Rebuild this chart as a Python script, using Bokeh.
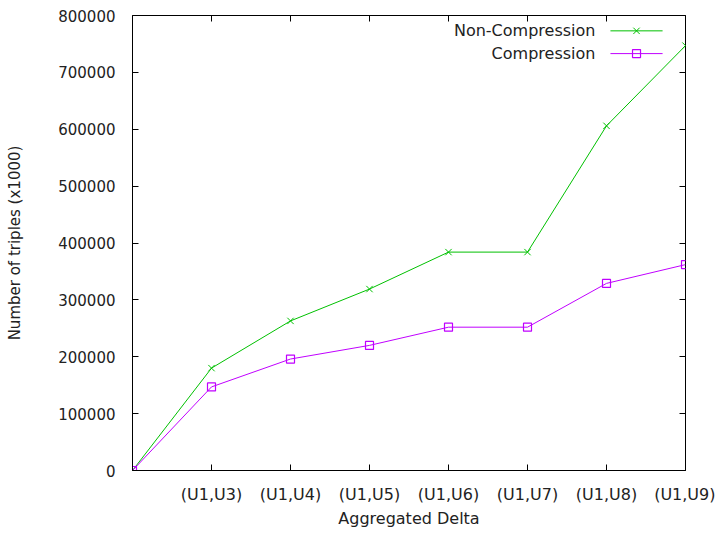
from bokeh.plotting import figure
from bokeh.models import (Range1d, FixedTicker, LinearAxis, PrintfTickFormatter)
from bokeh.core.properties import value
from bokeh.embed import file_html
from bokeh.resources import INLINE

# ---- data ----
categories = ["", "(U1,U3)", "(U1,U4)", "(U1,U5)", "(U1,U6)", "(U1,U7)", "(U1,U8)", "(U1,U9)"]
non_compression = [0, 180000, 263000, 319000, 384000, 384000, 606000, 747000]
compression = [0, 147000, 196000, 220000, 252000, 252000, 329000, 362000]
y_ticks = [0, 100000, 200000, 300000, 400000, 500000, 600000, 700000, 800000]
series_names = ["Non-Compression", "Compression"]

GREEN = "#00c000"
PURPLE = "#c000ff"
FONT = "DejaVu Sans"
FS = "15px"
FS_L = "16px"
TXT = "#222222"

xs = list(range(len(categories)))

p = figure(width=715, height=530, output_backend="svg", toolbar_location=None,
           x_range=Range1d(0, len(categories) - 1), y_range=Range1d(0, 800000),
           min_border_left=132, min_border_right=30, min_border_top=15, min_border_bottom=60)

p.grid.visible = False
p.outline_line_color = "black"
p.outline_line_width = 1
p.background_fill_color = "white"
p.border_fill_color = "white"

# x axis
xa = p.xaxis[0]
xa.ticker = FixedTicker(ticks=xs[1:])
xa.major_label_overrides = {i: categories[i] for i in xs}
xa.major_tick_in = 6
xa.major_tick_out = 0
xa.minor_tick_line_color = None
xa.axis_line_color = "black"
xa.major_label_text_font = FONT
xa.major_label_text_font_size = FS_L
xa.major_label_text_color = TXT
xa.major_label_standoff = 14
xa.axis_label = "Aggregated Delta"
xa.axis_label_text_font = FONT
xa.axis_label_text_font_size = FS_L
xa.axis_label_text_font_style = "normal"
xa.axis_label_text_color = TXT
xa.axis_label_standoff = 2

# y axis
ya = p.yaxis[0]
ya.ticker = FixedTicker(ticks=y_ticks)
ya.formatter = PrintfTickFormatter(format="%d")
ya.major_tick_in = 6
ya.major_tick_out = 0
ya.minor_tick_line_color = None
ya.major_label_text_font = FONT
ya.major_label_text_font_size = FS
ya.major_label_text_color = TXT
ya.major_label_standoff = 17
ya.axis_label = "Number of triples (x1000)"
ya.axis_label_text_font = FONT
ya.axis_label_text_font_size = FS
ya.axis_label_text_font_style = "normal"
ya.axis_label_text_color = TXT
ya.axis_label_standoff = 31

# mirror ticks on top and right (no labels)
top = LinearAxis(ticker=FixedTicker(ticks=xs[1:]), major_tick_in=6, major_tick_out=0,
                 minor_tick_line_color=None, axis_line_color=None,
                 major_label_text_color=None, major_label_text_font_size="1px",
                 major_label_standoff=0)
right = LinearAxis(ticker=FixedTicker(ticks=y_ticks), major_tick_in=6, major_tick_out=0,
                   minor_tick_line_color=None, axis_line_color=None,
                   major_label_text_color=None, major_label_text_font_size="1px",
                   major_label_standoff=0)
p.add_layout(top, "above")
p.add_layout(right, "right")

# series
p.line(xs, non_compression, line_color=GREEN, line_width=1)
p.scatter(xs, non_compression, marker="x", size=9, line_color=GREEN, line_width=1)
p.line(xs, compression, line_color=PURPLE, line_width=1)
p.scatter(xs, compression, marker="square", size=8, line_color=PURPLE, fill_color=None, line_width=1.2)

# legend (gnuplot style: label then sample), positioned in data space
leg_y = [773000, 733000]
leg_x_text = 5.86
leg_x0, leg_x1, leg_xm = 6.05, 6.71, 6.38
p.text([leg_x_text] * 2, leg_y, text=series_names, text_align="right", text_baseline="middle",
       text_font=value(FONT), text_font_size=FS_L, text_color=TXT)
p.segment([leg_x0] * 2, leg_y, [leg_x1] * 2, leg_y, line_color=[GREEN, PURPLE], line_width=1)
p.scatter([leg_xm], [leg_y[0]], marker="x", size=9, line_color=GREEN)
p.scatter([leg_xm], [leg_y[1]], marker="square", size=8, line_color=PURPLE, fill_color=None, line_width=1.2)

open("out.html", "w").write(file_html(p, INLINE))
